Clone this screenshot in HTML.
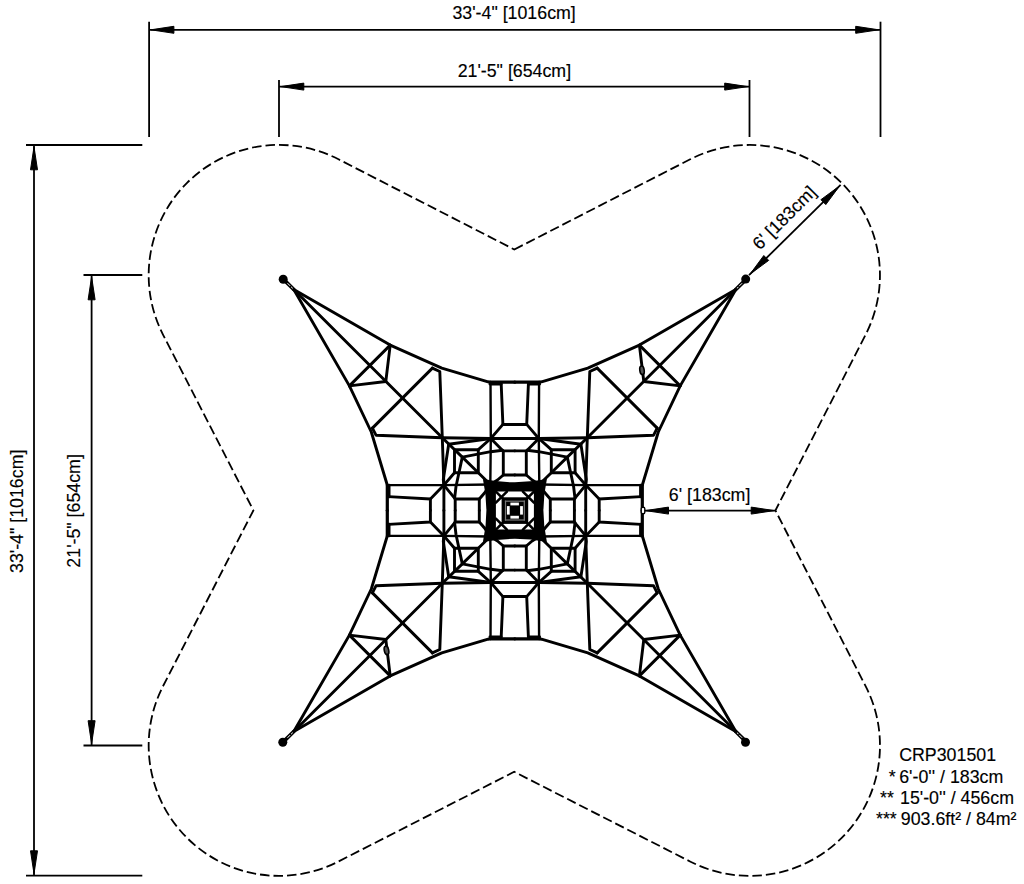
<!DOCTYPE html>
<html><head><meta charset="utf-8"><style>
html,body{margin:0;padding:0;background:#fff;overflow:hidden}
svg{display:block}
</style></head><body>
<svg width="1024" height="884" viewBox="0 0 1024 884">
<g fill="#000" stroke="#000">
<line x1="149.1" y1="29.8" x2="880.5" y2="29.8" stroke-width="1.8"/><polygon points="150.9,29.8 173.9,33.3 173.9,26.3"/><polygon points="878.7,29.8 855.7,26.3 855.7,33.3"/><line x1="149.1" y1="21.7" x2="149.1" y2="137" stroke-width="1.8"/><line x1="880.5" y1="21.7" x2="880.5" y2="137" stroke-width="1.8"/><line x1="279" y1="86.6" x2="749.5" y2="86.6" stroke-width="1.8"/><polygon points="280.8,86.6 303.8,90.1 303.8,83.1"/><polygon points="747.7,86.6 724.7,83.1 724.7,90.1"/><line x1="279" y1="80" x2="279" y2="137" stroke-width="1.8"/><line x1="749.5" y1="80" x2="749.5" y2="137" stroke-width="1.8"/><line x1="34" y1="145" x2="34" y2="875.6" stroke-width="1.8"/><polygon points="34.0,146.8 30.5,169.8 37.5,169.8"/><polygon points="34.0,873.8 37.5,850.8 30.5,850.8"/><line x1="26" y1="145" x2="142.3" y2="145" stroke-width="1.8"/><line x1="26" y1="875.6" x2="142.3" y2="875.6" stroke-width="1.8"/><line x1="91.6" y1="275" x2="91.6" y2="745.5" stroke-width="1.8"/><polygon points="91.6,276.8 88.1,299.8 95.1,299.8"/><polygon points="91.6,743.7 95.1,720.7 88.1,720.7"/><line x1="83.5" y1="275" x2="142.3" y2="275" stroke-width="1.8"/><line x1="83.5" y1="745.5" x2="142.3" y2="745.5" stroke-width="1.8"/><line x1="643" y1="510.6" x2="775.2" y2="510.6" stroke-width="1.8"/><polygon points="645.5,510.6 668.5,514.1 668.5,507.1"/><polygon points="774.2,510.6 751.2,507.1 751.2,514.1"/><line x1="749" y1="275.2" x2="840.6" y2="184.9" stroke-width="1.8"/><polygon points="750.0,274.2 768.7,260.4 763.8,255.5"/><polygon points="839.6,185.9 820.9,199.7 825.8,204.6"/>
</g>
<path d="M514.3,249.5 L690.2,159.3 A130.3,130.3 0 0 1 865.6,334.7 L775.4,510.5 L865.6,686.1 A130.3,130.3 0 0 1 690.5,861.7 L514.2,771.8 L338.3,861.6 A130.3,130.3 0 0 1 163.1,686.0 L253.4,510.4 L163.1,334.8 A130.3,130.3 0 0 1 338.5,159.3 L514.3,249.5 Z" fill="none" stroke="#000" stroke-width="1.8" stroke-dasharray="9.5 4"/>
<g transform="translate(514.8,510.5)" fill="none" stroke="#000" stroke-linejoin="round" stroke-linecap="round">
<g id="q">
<polyline points="-221.0,-221.0 -124.6,-165.4 -73.0,-142.4 -26.7,-128.7 -24.3,-128.3" stroke-width="2.9"/>
<polyline points="-231.5,-231.3 -221.0,-221.0" stroke-width="3.8"/>
<polyline points="-227,-227 -221,-221" stroke="#fff" stroke-width="1" stroke-dasharray="3 2"/>
<polyline points="-221.0,-221.0 -165.4,-124.6 -143.5,-78.5 -128.0,-27.0 -127.5,-25.4" stroke-width="2.9"/>
<polyline points="-221.0,-221.0 -72.5,-72.7 -52.5,-53.4 -36.5,-37.8 -24.5,-26.0" stroke-width="2.9"/>
<polyline points="-124.6,-165.4 -165.4,-124.6" stroke-width="2.9"/>
<polyline points="-124.6,-165.4 -129.0,-129.0 -165.4,-124.6" stroke-width="2.9"/>
<polyline points="-82.4,-142.4 -142.4,-82.4" stroke-width="2.9"/>
<polyline points="-82.4,-142.4 -75.0,-139.0 -72.5,-72.7" stroke-width="2.9"/>
<polyline points="-142.4,-82.4 -138.8,-75.3 -72.5,-72.7" stroke-width="2.9"/>
<polyline points="-72.5,-72.7 -70.9,-25.4 -70.9,0.0" stroke-width="2.9"/>
<polyline points="-72.5,-72.7 -24.0,-72.0 0.0,-72.0" stroke-width="2.9"/>
<polyline points="-24.3,-128.3 -24.0,-72.0 -24.5,-26.0" stroke-width="2.4"/>
<polyline points="-127.5,-25.4 -70.9,-25.4 -24.5,-26.0" stroke-width="2.4"/>
<polyline points="-24.3,-128.3 0.0,-128.3" stroke-width="3.2"/>
<polyline points="-127.5,-25.4 -127.5,0.0" stroke-width="3.2"/>
<polyline points="-125.6,-25.4 -125.6,-13.5" stroke-width="2.6"/>
<polyline points="-25.0,-126.4 -13.5,-126.4" stroke-width="2.6"/>
<polyline points="-13.6,-126.5 -11.9,-86.0 0.0,-86.0" stroke-width="2.9"/>
<polyline points="-11.9,-86.2 -24.0,-72.0" stroke-width="2.8"/>
<polyline points="-126.3,-13.9 -84.4,-11.5 -84.4,0.0" stroke-width="2.9"/>
<polyline points="-84.4,-11.5 -70.9,-25.4" stroke-width="2.8"/>
<polyline points="-24.0,-72.0 -11.7,-59.6 0.0,-59.6" stroke-width="2.9"/>
<polyline points="-11.5,-59.4 -11.5,-35.5 0.0,-35.5" stroke-width="2.9"/>
<polyline points="-11.5,-35.5 -17.3,-30.5 -24.5,-26.0" stroke-width="2.9"/>
<polyline points="-70.9,-25.4 -59.6,-11.7 -59.6,0.0" stroke-width="2.9"/>
<polyline points="-59.4,-11.5 -35.5,-11.5 -35.5,0.0" stroke-width="2.9"/>
<polyline points="-35.5,-11.5 -30.5,-17.3 -24.5,-26.0" stroke-width="2.9"/>
<polyline points="-60.3,-60.8 -36.5,-60.8 -36.5,-37.8 -60.3,-37.8 -60.3,-60.8" stroke-width="2.9"/>
<polyline points="-24.0,-72.0 -36.5,-60.8" stroke-width="2.9"/>
<polyline points="-70.9,-25.4 -60.3,-37.8" stroke-width="2.9"/>
<polyline points="-66.1,-66.3 -24.0,-72.0" stroke-width="2.9"/>
<polyline points="-66.1,-66.3 -71.5,-31.0 -70.9,-25.4" stroke-width="2.9"/>
<polyline points="-52.5,-53.4 -24.0,-58.8 -12.2,-60.2" stroke-width="2.9"/>
<polyline points="-52.5,-53.4 -58.8,-24.0 -60.2,-12.2" stroke-width="2.9"/>
</g>
<use href="#q" transform="scale(-1,1)"/>
<use href="#q" transform="scale(1,-1)"/>
<use href="#q" transform="scale(-1,-1)"/>

<g transform="translate(0.1,0.1)">
<path fill-rule="evenodd" fill="#000" stroke="none" d="M-32,-31.5 Q0,-25 32,-31.5 Q25,0 32,31.5 Q0,25 -32,31.5 Q-25,0 -32,-31.5 Z M-19,-19 L19,-19 L19,19 L-19,19 Z"/>
<g stroke-width="2.6">
<polyline points="-19,-19 -10,-10"/><polyline points="19,-19 10,-10"/><polyline points="-19,19 -10,10"/><polyline points="19,19 10,10"/>
<polyline points="-8,-19 -19,-8"/><polyline points="8,-19 19,-8"/><polyline points="-8,19 -19,8"/><polyline points="8,19 19,8"/>
</g>
<rect x="-13.3" y="-13.3" width="26.6" height="26.6" fill="#000" stroke="none"/>
<g fill="#fff" stroke="none">
<rect x="-4.5" y="-8" width="8.5" height="2.8"/><rect x="-4.5" y="5.2" width="8.5" height="2.8"/>
<rect x="-8" y="-4.5" width="2.8" height="8.5"/><rect x="5.2" y="-4.5" width="2.8" height="8.5"/>
</g>
<g fill="#777" stroke="none">
<rect x="-10" y="-10" width="20" height="1.2"/><rect x="-10" y="8.8" width="20" height="1.2"/>
<rect x="-10" y="-10" width="1.2" height="20"/><rect x="8.8" y="-10" width="1.2" height="20"/>
</g>
</g>

</g>
<circle cx="283.2" cy="279.2" r="4.5" fill="#000"/><circle cx="745.7" cy="279.1" r="4.5" fill="#000"/><circle cx="745.5" cy="742.2" r="4.5" fill="#000"/><circle cx="282.8" cy="742.3" r="4.5" fill="#000"/>

<rect x="641.2" y="507.2" width="3.6" height="6.6" rx="1.5" fill="#fff" stroke="#000" stroke-width="1.4"/>
<ellipse cx="642" cy="370.3" rx="2.2" ry="4.3" transform="rotate(-8 642 370.3)" fill="#555" stroke="#000" stroke-width="1.6"/>
<ellipse cx="386.5" cy="650.4" rx="2.2" ry="4.3" transform="rotate(-12 386.5 650.4)" fill="#555" stroke="#000" stroke-width="1.6"/>

<g fill="#000" stroke="#000" stroke-width="0.15">
<text x="514.1" y="19.1" text-anchor="middle" font-family="Liberation Sans, sans-serif" font-size="17.8">33'-4" [1016cm]</text>
<text x="514.4" y="76.7" text-anchor="middle" font-family="Liberation Sans, sans-serif" font-size="17.8">21'-5" [654cm]</text>
<text transform="translate(22.8,511.3) rotate(-90)" text-anchor="middle" font-family="Liberation Sans, sans-serif" font-size="17.8">33'-4" [1016cm]</text>
<text transform="translate(79.8,510.9) rotate(-90)" text-anchor="middle" font-family="Liberation Sans, sans-serif" font-size="17.8">21'-5" [654cm]</text>
<text x="709.6" y="501.3" text-anchor="middle" font-family="Liberation Sans, sans-serif" font-size="17.8">6' [183cm]</text>
<text transform="translate(788.5,222) rotate(-45)" text-anchor="middle" font-family="Liberation Sans, sans-serif" font-size="17.8">6' [183cm]</text>
<text x="899.2" y="761" font-family="Liberation Sans, sans-serif" font-size="17.8">CRP301501</text>
<text x="899.2" y="782.6" font-family="Liberation Sans, sans-serif" font-size="17.8"><tspan x="888.8">*</tspan><tspan x="899.2">6'-0'' / 183cm</tspan></text>
<text x="899.2" y="804.3" font-family="Liberation Sans, sans-serif" font-size="17.8"><tspan x="880">**</tspan><tspan x="900">15'-0'' / 456cm</tspan></text>
<text x="899.2" y="825.1" font-family="Liberation Sans, sans-serif" font-size="17.8"><tspan x="876">***</tspan><tspan x="900.8">903.6ft² / 84m²</tspan></text>
</g>
</svg>
</body></html>
